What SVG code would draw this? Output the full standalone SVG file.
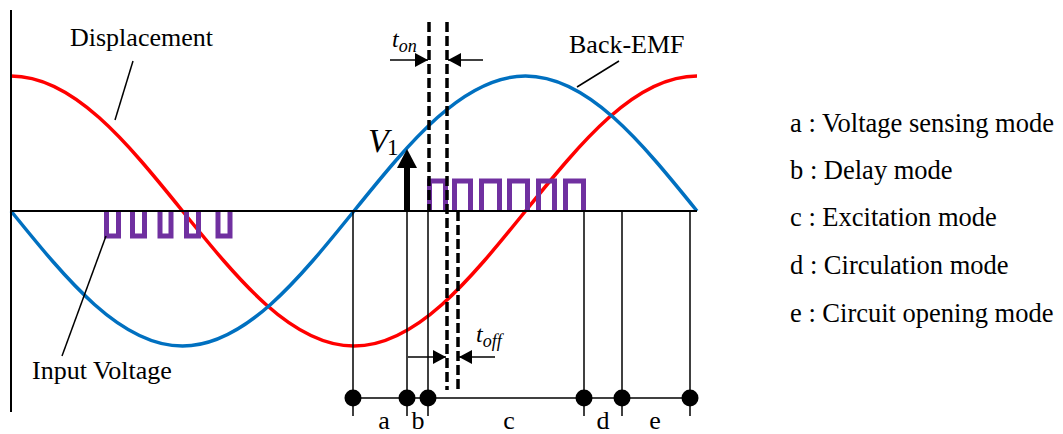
<svg xmlns="http://www.w3.org/2000/svg" width="1063" height="434" viewBox="0 0 1063 434" font-family="'Liberation Serif', 'Times New Roman', serif">
<defs>
<style>
text{font-family:"Liberation Serif","Times New Roman",serif;fill:#000}
.lbl{font-size:26px}
.leg{font-size:26.5px}
.it{font-style:italic}
.ax{stroke:#000;stroke-width:2;fill:none}
.thin{stroke:#000;stroke-width:1.5;fill:none}
.dash{stroke:#000;stroke-width:3.5;stroke-dasharray:10,4;fill:none}
.blue{stroke:#0070C0;stroke-width:3.5;fill:none}
.red{stroke:#FF0000;stroke-width:3.5;fill:none}
.pul{stroke:#7030A0;stroke-width:5;fill:none;stroke-linejoin:miter}
.dot{fill:#000}
</style>
<marker id="ah" viewBox="0 0 13 14" refX="13" refY="7" markerWidth="13" markerHeight="14" markerUnits="userSpaceOnUse" orient="auto">
<path d="M0,0 L13,7 L0,14 Z" fill="#000"/>
</marker>
</defs>
<rect width="1063" height="434" fill="#fff"/>

<g id="curves">
<path class="red" d="M11,76 C73.07,76 126.57,141.84 182.5,211 C238.43,280.16 291.93,346 354,346 C416.07,346 469.57,280.16 525.5,211 C581.43,141.84 634.93,76 697,76"/>
<path class="blue" d="M11,211 C66.93,280.16 120.43,346 182.5,346 C244.57,346 298.07,280.16 354,211 C409.93,141.84 463.43,76 525.5,76 C587.57,76 641.07,141.84 697,211"/>
</g>

<g id="pulses">
<path class="pul" d="M106.5,211 V236 H118.5 V211 M132.5,211 V236 H144.5 V211 M160,211 V236 H171 V211 M186.5,211 V236 H198.5 V211 M218,211 V236 H230 V211"/>
<path class="pul" d="M429.5,211 V181 H445.5 V211 M454.5,211 V181 H470.5 V211 M481.5,211 V181 H499.5 V211 M509.5,211 V181 H527.5 V211 M538.5,211 V181 H554.5 V211 M565.5,211 V181 H583.5 V211"/>
</g>

<g id="axes">
<line class="ax" x1="11" y1="10" x2="11" y2="412" stroke-width="2.5"/>
<line class="ax" x1="11" y1="211" x2="697" y2="211"/>
</g>

<g id="connectors">
<line class="dash" x1="429" y1="22" x2="429" y2="211"/>
<line class="dash" x1="447" y1="22" x2="447" y2="390"/>
<line class="dash" x1="458" y1="211" x2="458" y2="390"/>
<line class="thin" x1="353" y1="211" x2="353" y2="416"/>
<line class="thin" x1="407" y1="211" x2="407" y2="416"/>
<line class="thin" x1="428" y1="211" x2="428" y2="416"/>
<line class="thin" x1="584" y1="211" x2="584" y2="416"/>
<line class="thin" x1="622" y1="211" x2="622" y2="416"/>
<line class="thin" x1="690" y1="211" x2="690" y2="416"/>
<line class="thin" x1="353" y1="398" x2="690" y2="398"/>
<line class="thin" x1="390" y1="60" x2="428" y2="60" marker-end="url(#ah)"/>
<line class="thin" x1="483" y1="60" x2="448" y2="60" marker-end="url(#ah)"/>
<line class="thin" x1="408" y1="357" x2="446" y2="357" marker-end="url(#ah)"/>
<line class="thin" x1="495" y1="357" x2="459" y2="357" marker-end="url(#ah)"/>
<line class="thin" x1="133" y1="61" x2="115" y2="120"/>
<line class="thin" x1="619" y1="61" x2="577" y2="87"/>
<line class="thin" x1="106" y1="236" x2="62" y2="356"/>
<line x1="407" y1="211" x2="407" y2="166" stroke="#000" stroke-width="6"/>
<path d="M397,168 L407,149 L417,168 Z" fill="#000"/>
</g>

<g id="dots">
<circle class="dot" cx="353" cy="398" r="8.5"/>
<circle class="dot" cx="407" cy="398" r="8.5"/>
<circle class="dot" cx="428" cy="398" r="8.5"/>
<circle class="dot" cx="584" cy="398" r="8.5"/>
<circle class="dot" cx="622" cy="398" r="8.5"/>
<circle class="dot" cx="690" cy="398" r="8.5"/>
</g>

<g id="labels">
<text class="lbl" x="70" y="46">Displacement</text>
<text class="lbl" x="569" y="53">Back-EMF</text>
<text class="lbl" x="32" y="379">Input Voltage</text>
<text x="368" y="152" font-size="34" class="it">V</text>
<text x="387" y="155" font-size="23">1</text>
<text x="392" y="47" font-size="24" class="it">t<tspan font-size="18" dy="5">on</tspan></text>
<text x="476" y="342" font-size="24" class="it">t<tspan font-size="18" dy="5">off</tspan></text>
<g class="lbl" text-anchor="middle">
<text x="384" y="429">a</text>
<text x="418" y="429">b</text>
<text x="509" y="429">c</text>
<text x="603" y="429">d</text>
<text x="655" y="429">e</text>
</g>
</g>

<g id="legend" class="leg">
<text x="790" y="132">a : Voltage sensing mode</text>
<text x="790" y="179">b : Delay mode</text>
<text x="790" y="226">c : Excitation mode</text>
<text x="790" y="274">d : Circulation mode</text>
<text x="790" y="322">e : Circuit opening mode</text>
</g>
</svg>
